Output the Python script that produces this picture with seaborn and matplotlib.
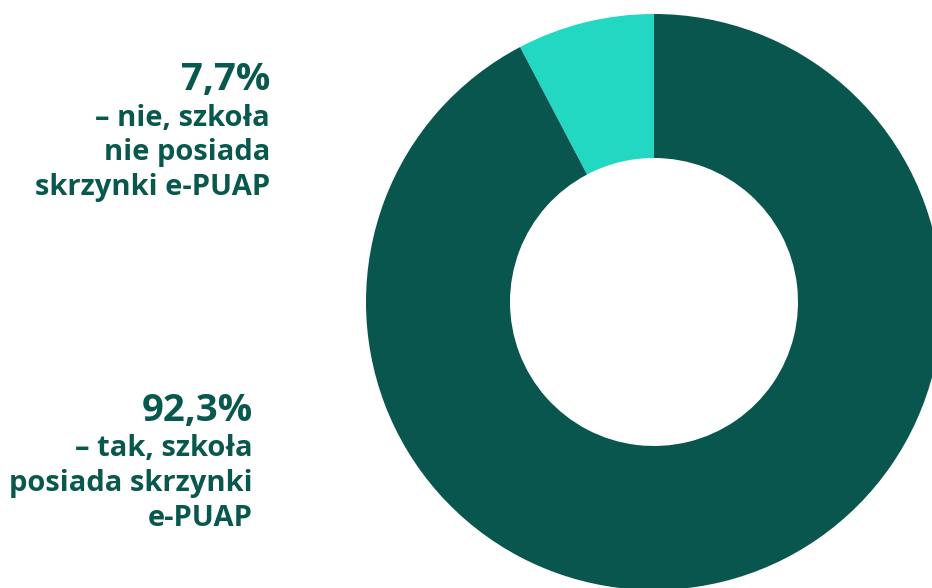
import matplotlib
matplotlib.use("Agg")
import matplotlib.pyplot as plt
from matplotlib import font_manager as fm
import seaborn as sns

sns.set_theme(style="white")
plt.rcParams['font.family'] = ['Open Sans', 'DejaVu Sans']

categories = ["nie", "tak"]
values = [7.7, 92.3]
colors = ["#22D8C3", "#08564E"]
pct_labels = ["7,7%", "92,3%"]
desc_labels = [["– nie, szkoła", "nie posiada", "skrzynki e-PUAP"],
               ["– tak, szkoła", "posiada skrzynki", "e-PUAP"]]

text_color = "#09584E"

bold_files = [f.fname for f in fm.fontManager.ttflist if f.fname.endswith('OpenSans-Bold.ttf')]
if bold_files:
    fp = fm.FontProperties(fname=bold_files[0])
else:
    fp = fm.FontProperties(family=['Open Sans', 'DejaVu Sans'], weight='bold')

fig = plt.figure(figsize=(9.32, 5.88), dpi=100)
ax = fig.add_axes([0, 0, 1, 1])

ax.pie(values, colors=colors, startangle=90, counterclock=True,
       center=(654, 286), radius=288, frame=True,
       wedgeprops=dict(width=144, linewidth=0))
ax.set_xlim(0, 932)
ax.set_ylim(0, 588)
ax.set_aspect('equal')
ax.axis('off')

# baseline positions measured from the top of the image
blocks = [
    dict(x=270, pct_base=90, lines=[125.5, 160, 195]),
    dict(x=253, pct_base=421.5, lines=[456.5, 491, 526.5]),
]
for blk, pct, desc in zip(blocks, pct_labels, desc_labels):
    ax.text(blk["x"], 588 - blk["pct_base"], pct, ha='right', va='baseline',
            fontproperties=fp, fontsize=27.5, color=text_color)
    for yb, line in zip(blk["lines"], desc):
        ax.text(blk["x"], 588 - yb, line, ha='right', va='baseline',
                fontproperties=fp, fontsize=21, color=text_color)

fig.savefig("out.png", dpi=100)
